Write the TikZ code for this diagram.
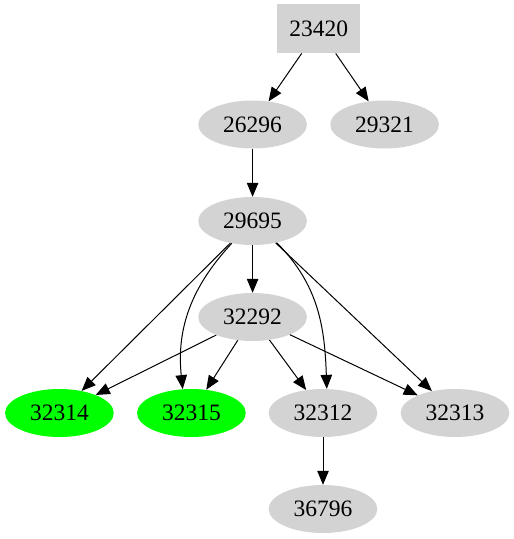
\documentclass[tikz,border=0pt]{standalone}
\usepackage{fontspec}
\setmainfont{Liberation Serif}
\usetikzlibrary{shapes.geometric,arrows.meta}
\definecolor{nodegray}{HTML}{D3D3D3}
\definecolor{nodegreen}{HTML}{00FF00}
\begin{document}
\begin{tikzpicture}[x=1pt,y=-1pt,
  every node/.style={font=\fontsize{23.5}{28}\selectfont, inner sep=0pt},
  ell/.style={ellipse, fill=nodegray, minimum width=108.7pt, minimum height=48pt},
  gell/.style={ell, fill=nodegreen},
  boxnode/.style={rectangle, fill=nodegray, minimum width=83pt, minimum height=49pt},
  edge/.style={line width=1pt, -{Triangle[length=14pt,width=11.5pt]}}]
\useasboundingbox (0,0) rectangle (514,539);
\node[boxnode] (n23420) at (318.7,28.7) {23420};
\node[ell] (n26296) at (252.6,124.5) {26296};
\node[ell] (n29321) at (384.6,124.5) {29321};
\node[ell] (n29695) at (252.6,221) {29695};
\node[ell] (n32292) at (252.6,317) {32292};
\node[gell] (n32314) at (59.4,413) {32314};
\node[gell] (n32315) at (191.4,413) {32315};
\node[ell] (n32312) at (323,413) {32312};
\node[ell] (n32313) at (455,413) {32313};
\node[ell] (n36796) at (323,509) {36796};
\draw[edge] (n23420) -- (n26296);
\draw[edge] (n23420) -- (n29321);
\draw[edge] (n26296) -- (n29695);
\draw[edge] (n29695) -- (n32292);
\draw[edge] (n29695) -- (n32314);
\draw[edge] (n29695.-133) to[out=-133,in=96] (n32315.110);
\draw[edge] (n29695.-42) to[out=-45,in=92] (n32312.81);
\draw[edge] (n29695) -- (n32313);
\draw[edge] (n32292) -- (n32314);
\draw[edge] (n32292) -- (n32315);
\draw[edge] (n32292) -- (n32312);
\draw[edge] (n32292) -- (n32313);
\draw[edge] (n32312) -- (n36796);
\end{tikzpicture}
\end{document}
